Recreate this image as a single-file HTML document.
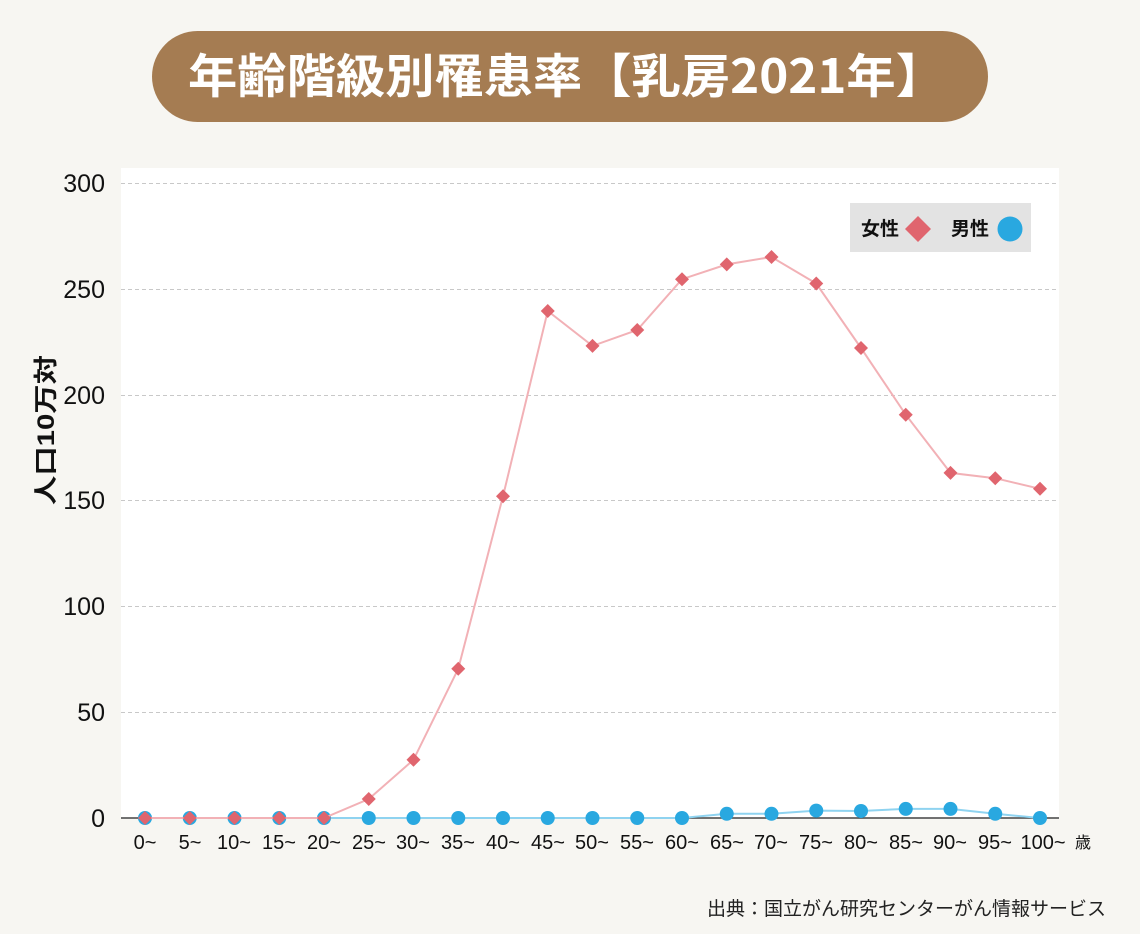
<!DOCTYPE html>
<html><head><meta charset="utf-8"><style>
html,body{margin:0;padding:0;background:#f7f6f2;}
svg{display:block;font-family:"Liberation Sans","Noto Sans CJK JP",sans-serif;}
</style></head><body>
<svg width="1140" height="934" viewBox="0 0 1140 934" xmlns="http://www.w3.org/2000/svg">
<rect width="1140" height="934" fill="#f7f6f2"/>
<rect x="152" y="31" width="836" height="91" rx="45.5" fill="#a57c52"/>
<text x="188" y="93" font-size="47" font-weight="bold" fill="#fff" textLength="757" lengthAdjust="spacingAndGlyphs" font-family="Noto Sans CJK JP, sans-serif">年齢階級別罹患率【乳房2021年】</text>
<rect x="121" y="168" width="938" height="650" fill="#fff"/>
<g stroke="#c8c8c8" stroke-dasharray="4,3" stroke-width="1">
<line x1="121" x2="1059" y1="183.5" y2="183.5"/>
<line x1="121" x2="1059" y1="289.5" y2="289.5"/>
<line x1="121" x2="1059" y1="395.5" y2="395.5"/>
<line x1="121" x2="1059" y1="500.5" y2="500.5"/>
<line x1="121" x2="1059" y1="606.5" y2="606.5"/>
<line x1="121" x2="1059" y1="712.5" y2="712.5"/>
</g>
<line x1="121" x2="1059" y1="818" y2="818" stroke="#444" stroke-width="1.5"/>
<g font-size="25" fill="#111" text-anchor="end">
<text x="105" y="192">300</text><text x="105" y="298">250</text><text x="105" y="404">200</text>
<text x="105" y="509">150</text><text x="105" y="615">100</text><text x="105" y="721">50</text><text x="105" y="827">0</text>
</g>
<text transform="translate(54,505) rotate(-90)" font-size="24" font-weight="bold" fill="#111" textLength="150" lengthAdjust="spacingAndGlyphs">人口10万対</text>
<g font-size="20" fill="#111" text-anchor="middle">
<text x="145" y="849">0~</text><text x="190" y="849">5~</text><text x="234" y="849">10~</text><text x="279" y="849">15~</text><text x="324" y="849">20~</text><text x="369" y="849">25~</text><text x="413" y="849">30~</text><text x="458" y="849">35~</text><text x="503" y="849">40~</text><text x="548" y="849">45~</text><text x="592" y="849">50~</text><text x="637" y="849">55~</text><text x="682" y="849">60~</text><text x="727" y="849">65~</text><text x="771" y="849">70~</text><text x="816" y="849">75~</text><text x="861" y="849">80~</text><text x="906" y="849">85~</text><text x="950" y="849">90~</text><text x="995" y="849">95~</text><text x="1043" y="849">100~</text>
<text x="1083" y="848" font-size="16">歳</text>
</g>
<polyline fill="none" stroke="#8fd3f0" stroke-width="2" points="145,818 189.75,818 234.5,818 279.25,818 324,818 368.75,818 413.5,818 458.25,818 503,818 547.75,818 592.5,818 637.25,818 682,818 726.75,813.8 771.5,813.8 816.25,810.6 861,811 905.75,808.9 950.5,808.9 995.25,813.8 1040,818"/>
<g fill="#29a8e0">
<circle cx="145" cy="818" r="7"/><circle cx="189.75" cy="818" r="7"/><circle cx="234.5" cy="818" r="7"/><circle cx="279.25" cy="818" r="7"/><circle cx="324" cy="818" r="7"/><circle cx="368.75" cy="818" r="7"/><circle cx="413.5" cy="818" r="7"/><circle cx="458.25" cy="818" r="7"/><circle cx="503" cy="818" r="7"/><circle cx="547.75" cy="818" r="7"/><circle cx="592.5" cy="818" r="7"/><circle cx="637.25" cy="818" r="7"/><circle cx="682" cy="818" r="7"/><circle cx="726.75" cy="813.8" r="7"/><circle cx="771.5" cy="813.8" r="7"/><circle cx="816.25" cy="810.6" r="7"/><circle cx="861" cy="811" r="7"/><circle cx="905.75" cy="808.9" r="7"/><circle cx="950.5" cy="808.9" r="7"/><circle cx="995.25" cy="813.8" r="7"/><circle cx="1040" cy="818" r="7"/>
</g>
<polyline fill="none" stroke="#f2b1b6" stroke-width="2" points="145,818 189.75,818 234.5,818 279.25,818 324,818 368.75,799 413.5,759.8 458.25,668.8 503,496.2 547.75,311 592.5,345.9 637.25,330 682,279.2 726.75,264.4 771.5,257 816.25,283.5 861,348 905.75,414.7 950.5,472.9 995.25,478.2 1040,488.8"/>
<g fill="#e0656e">
<path d="M145,811l7,7l-7,7l-7,-7z"/><path d="M189.75,811l7,7l-7,7l-7,-7z"/><path d="M234.5,811l7,7l-7,7l-7,-7z"/><path d="M279.25,811l7,7l-7,7l-7,-7z"/><path d="M324,811l7,7l-7,7l-7,-7z"/><path d="M368.75,792l7,7l-7,7l-7,-7z"/><path d="M413.5,752.8l7,7l-7,7l-7,-7z"/><path d="M458.25,661.8l7,7l-7,7l-7,-7z"/><path d="M503,489.2l7,7l-7,7l-7,-7z"/><path d="M547.75,304l7,7l-7,7l-7,-7z"/><path d="M592.5,338.9l7,7l-7,7l-7,-7z"/><path d="M637.25,323l7,7l-7,7l-7,-7z"/><path d="M682,272.2l7,7l-7,7l-7,-7z"/><path d="M726.75,257.4l7,7l-7,7l-7,-7z"/><path d="M771.5,250l7,7l-7,7l-7,-7z"/><path d="M816.25,276.5l7,7l-7,7l-7,-7z"/><path d="M861,341l7,7l-7,7l-7,-7z"/><path d="M905.75,407.7l7,7l-7,7l-7,-7z"/><path d="M950.5,465.9l7,7l-7,7l-7,-7z"/><path d="M995.25,471.2l7,7l-7,7l-7,-7z"/><path d="M1040,481.8l7,7l-7,7l-7,-7z"/>
</g>
<rect x="850" y="203" width="181" height="49" fill="#e3e3e3"/>
<text x="861" y="235" font-size="19" font-weight="bold" fill="#111">女性</text>
<path d="M918,216l13,13l-13,13l-13,-13z" fill="#e0656e"/>
<text x="951" y="235" font-size="19" font-weight="bold" fill="#111">男性</text>
<circle cx="1010" cy="229" r="12.5" fill="#29a8e0"/>
<text x="1106" y="915" font-size="19" fill="#222" text-anchor="end">出典：国立がん研究センターがん情報サービス</text>
</svg>
</body></html>
